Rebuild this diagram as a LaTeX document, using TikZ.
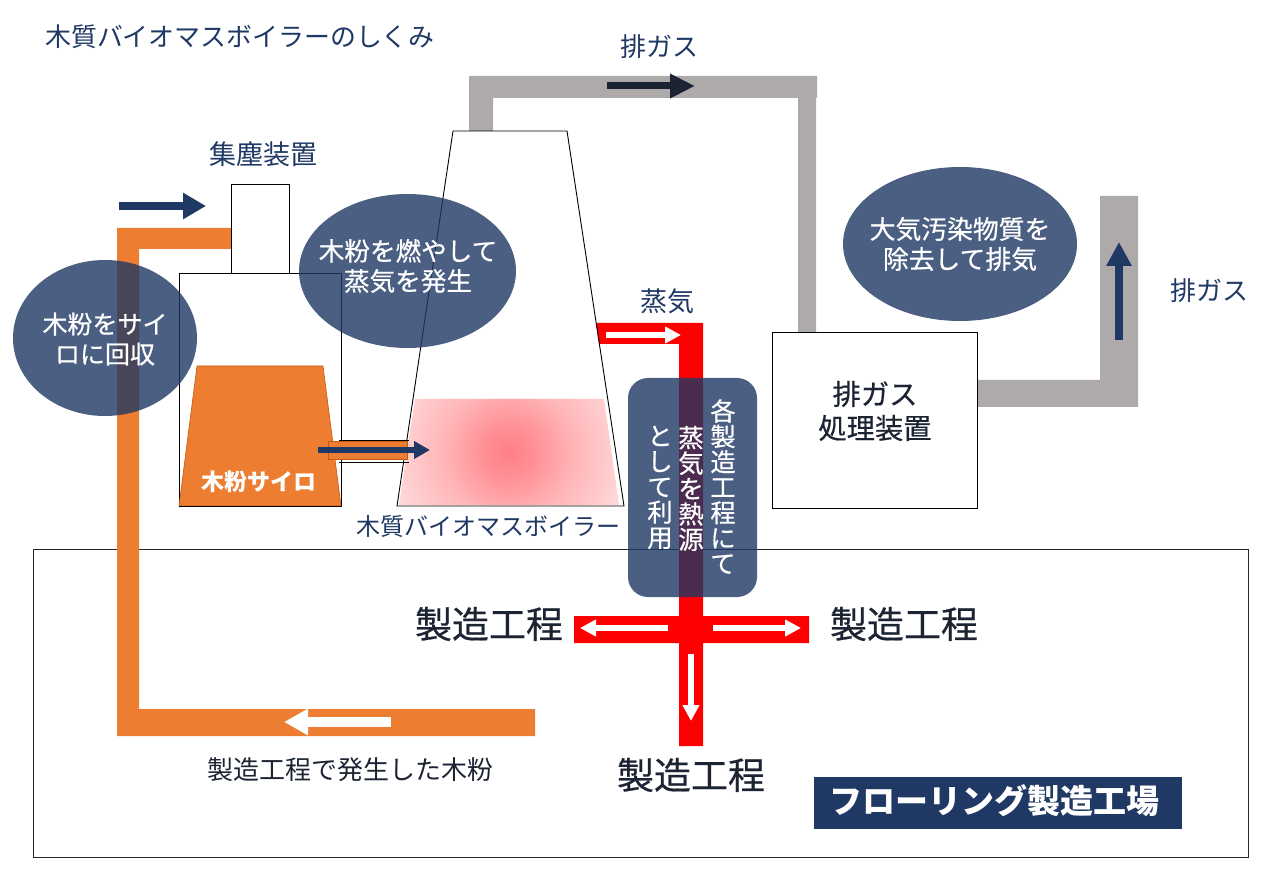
\documentclass[tikz,border=0pt]{standalone}
\usepackage{fontspec}
\setmainfont{Noto Sans CJK JP}
\newfontfamily\medfont[FakeBold=0.5]{Noto Sans CJK JP}
\usetikzlibrary{arrows.meta,shapes.geometric}
\definecolor{navy}{HTML}{1F3864}
\definecolor{deep}{HTML}{1C2433}
\definecolor{pipegray}{HTML}{AEAAAA}
\definecolor{pipeorange}{HTML}{ED7D31}
\definecolor{edgeorange}{HTML}{C55A11}
\definecolor{pipered}{HTML}{FF0000}
\definecolor{glowa}{HTML}{FF7F85}
\definecolor{glowb}{HTML}{FF9096}
\definecolor{glowc}{HTML}{FFB5B8}
\definecolor{glowd}{HTML}{FFDFDF}
\pgfdeclareradialshading{glow}{\pgfpoint{0bp}{0bp}}{color(0bp)=(glowa); color(5bp)=(glowb); color(12.5bp)=(glowc); color(25bp)=(glowd); color(50bp)=(glowd)}
\tikzset{
  lab/.style={inner sep=0pt,text=navy,align=center},
  darklab/.style={inner sep=0pt,text=deep,align=center},
  whitelab/.style={inner sep=0pt,text=white,align=center},
  bubble/.style={ellipse,fill=navy,fill opacity=.8,inner sep=0pt},
  thinbox/.style={draw=black,line width=.9pt,fill=white,inner sep=0pt},
  thinline/.style={draw=black,line width=.9pt},
  navyarrow/.style={draw=navy,line width=#1},
  whitearrow/.style={draw=white,line width=6pt,-{Triangle[length=16pt,width=16pt]}},
}
\begin{document}
\begin{tikzpicture}[x=1pt,y=-1pt]
\useasboundingbox (0,0) rectangle (1280,882);
\fill[white] (0,0) rectangle (1280,882);

% factory outline
\node[draw=black!85,line width=1pt,minimum width=1215pt,minimum height=308pt,inner sep=0pt] (factory) at (640.5,703) {};

% grey flue pipes
\fill[pipegray] (469,131) -- (469,76) -- (817,76) -- (817,98) -- (816,98) -- (816,332) -- (798,332) -- (798,98) -- (493,98) -- (493,131) -- cycle;
\fill[pipegray] (977,380) -- (1100,380) -- (1100,196) -- (1138,196) -- (1138,407) -- (977,407) -- cycle;

% orange pipe
\fill[pipeorange] (231,228) -- (117,228) -- (117,736) -- (535,736) -- (535,709) -- (139,709) -- (139,249) -- (231,249) -- cycle;

% red pipe
\fill[pipered] (596,323) -- (703,323) -- (703,616) -- (809,616) -- (809,643) -- (703,643) -- (703,746) -- (679,746) -- (679,643) -- (574,643) -- (574,616) -- (679,616) -- (679,344) -- (599,344) -- cycle;

% furnace glow
\begin{scope}
\clip (415,399) -- (604,399) -- (619,505) -- (399,505) -- cycle;
\shade[shading=glow] (509,452) circle[radius=130];
\end{scope}

% boxes
\node[thinbox,minimum width=58pt,minimum height=89pt] (dust) at (260,228.5) {};
\draw[thinline] (179,273) rectangle (341,506);
\fill[pipeorange,draw=edgeorange,line width=.6pt] (197,366) -- (323,366) -- (341,506) -- (179,506) -- cycle;
\draw[thinline] (179,506) -- (341,506);
\draw[thinline] (453,131) -- (567,131) -- (624,506) -- (397,506) -- cycle;
\node[thinbox,minimum width=205pt,minimum height=176pt] (gasbox) at (874.5,420) {};
\node[darklab,font=\fontsize{28.3}{34}\selectfont\medfont] (gastext) at (875,411) {排ガス\\処理装置};

% feed duct
\fill[pipeorange,draw=edgeorange,line width=.6pt] (328,441) rectangle (407,459);
\coordinate (ductA1) at (339,440);
\coordinate (ductA2) at (409,440);
\coordinate (ductB1) at (339,462);
\coordinate (ductB2) at (409,462);
\draw[thinline] (ductA1) -- (ductA2);
\draw[thinline] (ductB1) -- (ductB2);

% navy arrows
\coordinate (a1s) at (119,206); \coordinate (a1e) at (206,206);
\draw[navyarrow=8pt,-{Triangle[length=23pt,width=25pt]}] (a1s) -- (a1e);
\coordinate (a2s) at (318,450); \coordinate (a2e) at (430,450);
\draw[navyarrow=6pt,-{Triangle[length=16pt,width=17pt]}] (a2s) -- (a2e);
\coordinate (a3s) at (607,86); \coordinate (a3e) at (695,86);
\draw[draw=deep,line width=7pt,-{Triangle[length=25pt,width=23pt]}] (a3s) -- (a3e);
\coordinate (a4s) at (1119,340); \coordinate (a4e) at (1119,242);
\draw[navyarrow=8pt,-{Triangle[length=24pt,width=24pt]}] (a4s) -- (a4e);

% white arrows
\coordinate (w1s) at (391,722); \coordinate (w1e) at (284,722);
\draw[draw=white,line width=10pt,-{Triangle[length=24pt,width=25pt]}] (w1s) -- (w1e);
\coordinate (w2s) at (606,335); \coordinate (w2e) at (681,335);
\draw[whitearrow] (w2s) -- (w2e);
\coordinate (w3s) at (668,628); \coordinate (w3e) at (580,628);
\draw[whitearrow] (w3s) -- (w3e);
\coordinate (w4s) at (713,628); \coordinate (w4e) at (801,628);
\draw[whitearrow] (w4s) -- (w4e);
\coordinate (w5s) at (691,654); \coordinate (w5e) at (691,721);
\draw[whitearrow] (w5s) -- (w5e);

% bubbles
\node[bubble,minimum width=184pt,minimum height=156pt] (b1) at (105,338) {};
\node[whitelab,font=\fontsize{25}{30}\selectfont\medfont] (b1t) at (105,339) {木粉をサイ\\ロに回収};
\node[bubble,minimum width=217pt,minimum height=154pt] (b2) at (407.5,271) {};
\node[whitelab,font=\fontsize{25.6}{30}\selectfont\medfont] (b2t) at (408,266) {木粉を燃やして\\蒸気を発生};
\node[bubble,minimum width=234pt,minimum height=154pt] (b3) at (960,244) {};
\node[whitelab,font=\fontsize{25.8}{30}\selectfont\medfont] (b3t) at (960,244) {大気汚染物質を\\除去して排気};
\node[fill=navy,fill opacity=.8,rounded corners=20pt,minimum width=129pt,minimum height=219pt,inner sep=0pt] (panel) at (692.5,487.5) {};
\node[whitelab,font=\fontsize{25.3}{25.4}\selectfont\medfont] (v1) at (723,486.5) {各\\製\\造\\工\\程\\に\\て};
\node[whitelab,font=\fontsize{25.3}{25.4}\selectfont\medfont] (v2) at (691,488.5) {蒸\\気\\を\\熱\\源};
\node[whitelab,font=\fontsize{25.3}{25.4}\selectfont\medfont] (v3) at (660,487.5) {と\\し\\て\\利\\用};

% labels
\node[lab,font=\fontsize{25.9}{28}\selectfont] (title) at (240,37) {木質バイオマスボイラーのしくみ};
\node[lab,font=\fontsize{26}{30}\selectfont] (gas1) at (659,47) {排ガス};
\node[lab,font=\fontsize{26}{30}\selectfont] (gas2) at (1209,291) {排ガス};
\node[lab,font=\fontsize{27}{30}\selectfont] (dusttext) at (263.5,154) {集塵装置};
\node[lab,font=\fontsize{27}{30}\selectfont] (steam) at (667,301) {蒸気};
\node[lab,font=\fontsize{24}{28}\selectfont] (boiler) at (488,526) {木質バイオマスボイラー};
\node[whitelab,font=\fontsize{23}{26}\selectfont\bfseries] (silo) at (258.5,482) {木粉サイロ};
\node[darklab,font=\fontsize{37}{40}\selectfont\medfont] (p1) at (489,624) {製造工程};
\node[darklab,font=\fontsize{37}{40}\selectfont\medfont] (p2) at (904,624) {製造工程};
\node[darklab,font=\fontsize{37}{40}\selectfont\medfont] (p3) at (691,775) {製造工程};
\node[darklab,font=\fontsize{26}{30}\selectfont] (waste) at (350,770) {製造工程で発生した木粉};
\node[fill=navy,minimum width=368pt,minimum height=52pt,inner sep=0pt] (plant) at (998,803) {};
\node[whitelab,font=\fontsize{33}{36}\selectfont\bfseries] (planttext) at (994.5,801) {フローリング製造工場};
\end{tikzpicture}
\end{document}
